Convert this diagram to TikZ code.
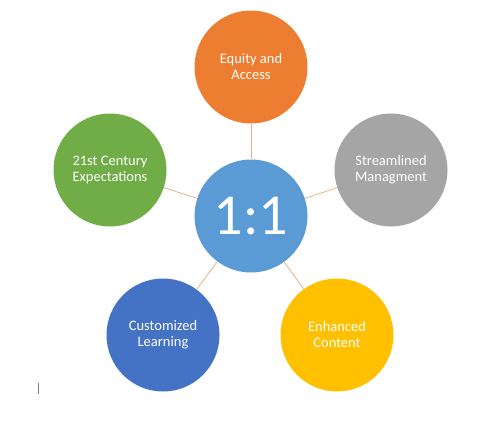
\documentclass[tikz,border=0pt]{standalone}
\usepackage{fontspec}
\setmainfont{Carlito}
\usetikzlibrary{positioning}
\definecolor{HubBlue}{RGB}{91,155,213}
\definecolor{AccOrange}{RGB}{237,125,49}
\definecolor{AccGray}{RGB}{165,165,165}
\definecolor{AccGreen}{RGB}{112,173,71}
\definecolor{AccBlue}{RGB}{68,114,196}
\definecolor{AccGold}{RGB}{255,192,0}
\definecolor{SpokeColor}{RGB}{232,176,132}
\tikzstyle{topic} = [circle, minimum size=113pt, inner sep=0pt, text=white, align=center, font=\fontsize{14.5}{16}\selectfont]
\tikzstyle{spoke} = [SpokeColor, line width=0.8pt]

\begin{document}
\begin{tikzpicture}[x=1pt, y=-1pt]
    \useasboundingbox (0,0) rectangle (500,439);
    % hub and the five topics
    \node[topic, fill=HubBlue, font=\fontsize{58}{58}\selectfont] (hub) at (251,216) {1:1};
    \node[topic, fill=AccOrange] (equity) at (251,67) {Equity and\\Access};
    \node[topic, fill=AccGray] (stream) at (391,170) {Streamlined\\Managment};
    \node[topic, fill=AccGreen] (century) at (110,170) {21st Century\\Expectations};
    \node[topic, fill=AccBlue] (custom) at (163,335) {Customized\\Learning};
    \node[topic, fill=AccGold] (content) at (337,335) {Enhanced\\Content};

    \draw[spoke] (hub) -- (equity);
    \draw[spoke] (hub) -- (stream);
    \draw[spoke] (hub) -- (century);
    \draw[spoke] (hub) -- (custom);
    \draw[spoke] (hub) -- (content);

    % cursor mark
    \coordinate (cursortop) at (38.3,383);
    \coordinate (cursorbot) at (38.3,394);
    \draw[gray, line width=1pt] (cursortop) -- (cursorbot);
\end{tikzpicture}
\end{document}
